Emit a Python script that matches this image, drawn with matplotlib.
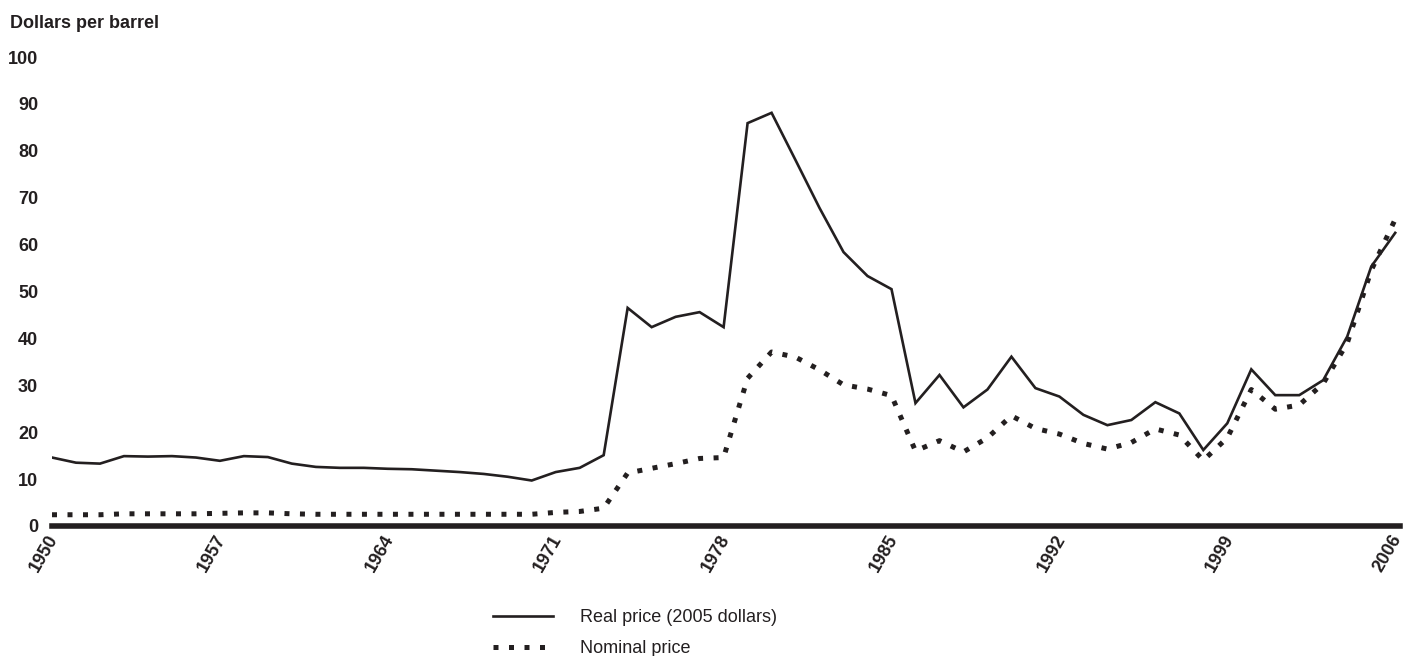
import matplotlib
matplotlib.use("Agg")
import matplotlib.pyplot as plt
import matplotlib.transforms as mtransforms
import numpy as np

plt.rcParams['font.family'] = ['Liberation Sans', 'DejaVu Sans']

INK = '#231f20'

years = np.arange(1950, 2007)

# real price, 2005 dollars per barrel
real_price = [
    14.6, 13.5, 13.3, 14.9, 14.8, 14.9, 14.6, 13.9, 14.9, 14.7,
    13.3, 12.6, 12.4, 12.4, 12.2, 12.1, 11.8, 11.5, 11.1, 10.5,
    9.7, 11.5, 12.4, 15.1, 46.5, 42.4, 44.6, 45.6, 42.4, 85.9,
    88.1, 78.0, 67.8, 58.4, 53.3, 50.5, 26.2, 32.2, 25.3, 29.1,
    36.1, 29.4, 27.6, 23.7, 21.5, 22.6, 26.4, 24.0, 16.2, 21.9,
    33.4, 27.9, 27.9, 31.1, 40.4, 55.3, 62.5,
]

# nominal price, dollars per barrel
nominal_price = [
    2.4, 2.4, 2.4, 2.6, 2.6, 2.6, 2.6, 2.7, 2.8, 2.8,
    2.6, 2.5, 2.5, 2.5, 2.5, 2.5, 2.5, 2.5, 2.5, 2.5,
    2.5, 2.9, 3.1, 3.8, 11.3, 12.3, 13.3, 14.4, 14.6, 31.5,
    37.1, 36.0, 33.3, 30.1, 29.2, 27.8, 16.0, 18.2, 15.8, 18.8,
    23.5, 20.8, 19.6, 17.6, 16.4, 17.8, 20.7, 19.4, 14.0, 18.8,
    29.1, 24.9, 25.8, 30.4, 39.0, 54.5, 65.4,
]

x_ticks = list(range(1950, 2007, 7))
y_ticks = list(range(0, 101, 10))

fig = plt.figure(figsize=(14.06, 6.56), dpi=100)
ax = fig.add_axes([52 / 1406, 130 / 656, (1400 - 52) / 1406, (526 - 57) / 656])

ax.plot(years, real_price, color=INK, lw=1.9, solid_joinstyle='miter',
        label='Real price (2005 dollars)')
ax.plot(years, nominal_price, color=INK, lw=3.6, linestyle=(0, (1, 2.1)),
        dash_capstyle='butt', label='Nominal price')

ax.axhline(0, color=INK, lw=4.0, clip_on=False, zorder=5)

ax.set_xlim(1950, 2006.2)
ax.set_ylim(0, 100)

for s in ax.spines.values():
    s.set_visible(False)

ax.set_yticks(y_ticks)
ax.set_yticklabels([str(v) for v in y_ticks], fontsize=13, fontweight='bold', color=INK)
ax.tick_params(axis='y', length=0, pad=10)

ax.set_xticks(x_ticks)
ax.set_xticklabels([str(v) for v in x_ticks], fontsize=13, fontweight='bold', color=INK,
                   rotation=60, ha='right', va='top', rotation_mode='anchor')
ax.tick_params(axis='x', length=0, pad=4)
# nudge the rotated year labels a little to the left
shift = mtransforms.ScaledTranslation(-5 / 100, 0, fig.dpi_scale_trans)
for lbl in ax.get_xticklabels():
    lbl.set_transform(lbl.get_transform() + shift)

fig.text(10 / 1406, 1 - 23 / 656, 'Dollars per barrel', fontsize=13, fontweight='bold',
         color=INK, ha='left', va='center')

leg = fig.legend(loc='upper left', bbox_to_anchor=(493 / 1406, 1 - 609 / 656),
                 frameon=False, fontsize=13, handlelength=3.35, handletextpad=1.45,
                 labelspacing=0.78, borderaxespad=0, borderpad=0)
for t in leg.get_texts():
    t.set_color(INK)

fig.savefig('out.png', dpi=100)
